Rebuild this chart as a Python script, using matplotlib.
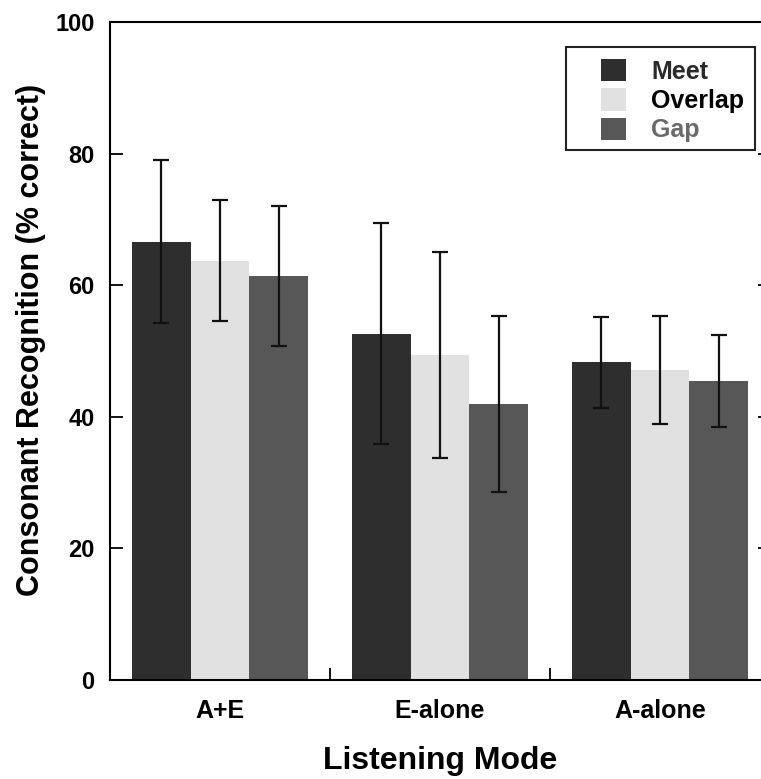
import numpy as np
import matplotlib.pyplot as plt
from matplotlib.patches import Patch, Rectangle

plt.rcParams['font.family'] = ['Liberation Sans', 'DejaVu Sans']
plt.rcParams['font.weight'] = 'bold'

# listening modes and conditions
modes = ["A+E", "E-alone", "A-alone"]
conds = ["Meet", "Overlap", "Gap"]

# mean % correct per condition (one value per mode)
meet = [66.6, 52.6, 48.3]
overlap = [63.7, 49.4, 47.1]
gap = [61.4, 41.9, 45.4]

# standard deviations
meet_sd = [12.4, 16.8, 6.9]
overlap_sd = [9.2, 15.7, 8.2]
gap_sd = [10.7, 13.4, 7.0]

colors = ["#2e2e2e", "#e1e1e1", "#575757"]
text_colors = ["#2a2a2a", "#000000", "#6a6a6a"]

fig = plt.figure(figsize=(7.61, 7.79), dpi=100)
ax = fig.add_axes([110/761, 99/779, 660/761, 658/779])

x = np.arange(len(modes))
w = 0.266
means = [meet, overlap, gap]
sds = [meet_sd, overlap_sd, gap_sd]
for i in range(3):
    ax.bar(x + (i - 1) * w, means[i], w, color=colors[i], edgecolor='none', zorder=2)
    ax.errorbar(x + (i - 1) * w, means[i], yerr=sds[i], fmt='none',
                ecolor='#111111', elinewidth=1.6, capsize=6, capthick=1.6, zorder=3)

ax.set_xlim(-0.5, 2.5)
ax.set_ylim(0, 100)
ax.set_yticks([0, 20, 40, 60, 80, 100])
ax.set_xticks(x)
ax.set_xticklabels(modes, fontsize=18, fontweight='bold')
ax.tick_params(axis='x', length=0, pad=14)
ax.set_xticks([0.5, 1.5], minor=True)
ax.tick_params(axis='x', which='minor', direction='in', length=9, width=1.3)
ax.tick_params(axis='y', direction='in', length=9, width=1.3, labelsize=17,
               right=True, pad=11)
for lbl in ax.get_yticklabels():
    lbl.set_fontweight('bold')
for s in ax.spines.values():
    s.set_linewidth(1.5)

ax.set_ylabel("Consonant Recognition (% correct)", fontsize=22, fontweight='bold')
ax.yaxis.set_label_coords(-0.097, 0.517)
ax.set_xlabel("Listening Mode", fontsize=23, fontweight='bold', labelpad=16)

# legend without its own frame; box drawn separately
handles = [Patch(facecolor=c, edgecolor='none') for c in colors]
leg = ax.legend(handles, conds, loc='upper left', bbox_to_anchor=(601/761, 1 - 59/779),
                bbox_transform=fig.transFigure, frameon=False, fontsize=18,
                handlelength=1.0, handleheight=1.0, handletextpad=1.0,
                labelspacing=0.18, borderpad=0, borderaxespad=0)
for t, c in zip(leg.get_texts(), text_colors):
    t.set_color(c)
    t.set_fontweight('bold')
fig.patches.append(Rectangle((566/761, 1 - 150/779), 189/761, 103/779,
                             transform=fig.transFigure, fill=False,
                             edgecolor='#222222', linewidth=1.5, zorder=5))

fig.savefig("out.png", dpi=100)
